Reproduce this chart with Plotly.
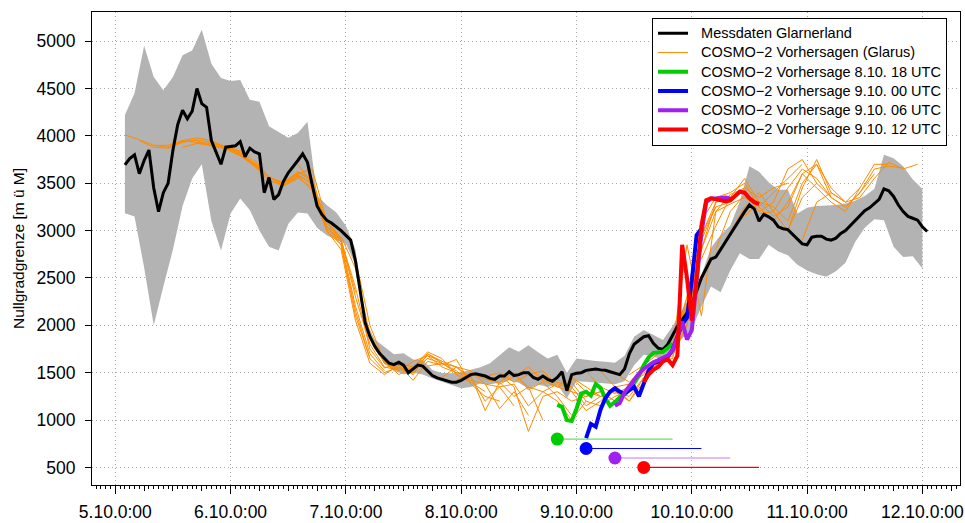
import pandas as pd
import plotly.graph_objects as go

# ---------------- data (hours since 5.10. 0:00 local time) ----------------
BASE = pd.Timestamp("2013-10-05 00:00")

day_ticks = [0, 24, 48, 72, 96, 120, 144, 168]
day_labels = ["5.10.0:00", "6.10.0:00", "7.10.0:00", "8.10.0:00",
              "9.10.0:00", "10.10.0:00", "11.10.0:00", "12.10.0:00"]
y_ticks = [500, 1000, 1500, 2000, 2500, 3000, 3500, 4000, 4500, 5000]

# Messdaten Glarnerland, hourly from hour 2
obs_start = 2
obs = [3693, 3760, 3800, 3600, 3740, 3850, 3450, 3200, 3400, 3500,
       3850, 4120, 4270, 4180, 4260, 4500, 4340, 4300, 3950, 3830,
       3700, 3880, 3890, 3895, 3940, 3780, 3870, 3830, 3810, 3400,
       3560, 3330, 3380, 3520, 3610, 3670, 3740, 3810, 3720, 3480,
       3260, 3170, 3110, 3080, 3040, 3000, 2950, 2900, 2680, 2330,
       2030, 1880, 1780, 1705, 1650, 1600, 1585, 1610, 1580, 1500,
       1540, 1580, 1570, 1520, 1470, 1445, 1430, 1420, 1400, 1400,
       1420, 1450, 1480, 1490, 1480, 1465, 1440, 1430, 1465, 1465,
       1510, 1470, 1480, 1500, 1500, 1450, 1430, 1465, 1430, 1410,
       1450, 1510, 1310, 1480, 1495, 1500, 1525, 1535, 1540, 1530,
       1525, 1510, 1495, 1480, 1540, 1700, 1800, 1845, 1880, 1890,
       1810, 1760, 1745, 1800, 1890, 1990, 2060, 2130, 2220, 2360,
       2500, 2600, 2700, 2720, 2800, 2880, 2970, 3040, 3120, 3200,
       3270, 3230, 3100, 3170, 3145, 3110, 3040, 3020, 3010, 2960,
       2910, 2860, 2850, 2930, 2940, 2940, 2910, 2900, 2920, 2970,
       3000, 3050, 3110, 3160, 3210, 3240, 3280, 3330, 3440, 3420,
       3360, 3270, 3200, 3150, 3130, 3110, 3040, 2990]

# grey range band, every 2 hours from hour 2
band_start = 2
band_upper = [4220, 4450, 4950, 4620, 4480, 4620, 4850, 4900, 5120, 4760,
              4610, 4580, 4590, 4380, 4360, 4100, 4040, 3980, 4030, 4150,
              3370, 3270, 3190, 3050, 2800, 2060, 1850, 1770, 1695, 1705,
              1640, 1634, 1530, 1497, 1494, 1505, 1530, 1557, 1600, 1680,
              1770, 1720, 1790, 1715, 1650, 1690, 1500, 1650, 1634, 1625,
              1617, 1605, 1680, 1880, 1950, 1900, 1846, 1990, 2160, 2340,
              2530, 2820, 2954, 3050, 3306, 3680, 3620, 3510, 3430, 3430,
              3180, 3240, 3260, 3265, 3271, 3285, 3315, 3365, 3440, 3800,
              3764, 3680, 3540, 3440]
band_lower = [3183, 3148, 2610, 2000, 2409, 2800, 3260, 3550, 3700, 3100,
              2790, 3180, 3340, 3218, 3000, 2830, 2790, 3070, 3190, 3180,
              3030, 2950, 2900, 2860, 2640, 2040, 1750, 1600, 1520, 1485,
              1500, 1480, 1440, 1405, 1370, 1335, 1350, 1385, 1378, 1395,
              1420, 1395, 1330, 1375, 1350, 1375, 1230, 1410, 1406, 1395,
              1388, 1378, 1410, 1580, 1690, 1670, 1640, 1760, 1860, 1960,
              2200, 2410, 2350, 2580, 2761, 2700, 2700, 2850, 2780, 2740,
              2640, 2580, 2540, 2514, 2570, 2660, 2880, 3030, 3120, 3110,
              2830, 2720, 2730, 2600]

# COSMO-2 forecasts (Glarus): start hour, values every 3 h over 24 h
orange_starts = [2, 5, 8, 11, 14, 17, 20, 23, 26, 29, 32, 35, 38, 41, 44, 47,
                 50, 53, 56, 59, 62, 65, 68, 71, 74, 77, 80, 83, 86, 89, 92, 95,
                 98, 101, 104, 107, 110, 113, 116, 119, 122, 125, 128, 131, 134,
                 137, 140, 143]
orange_runs = [
    [4010, 3960, 3900, 3900, 3950, 3930, 3920, 3890, 3840],
    [3950, 3880, 3870, 3940, 3950, 3890, 3870, 3790, 3690],
    [3900, 3880, 3950, 3980, 3950, 3880, 3830, 3700, 3560],
    [3870, 3930, 3960, 3930, 3880, 3800, 3700, 3570, 3480],
    [3880, 3920, 3900, 3860, 3790, 3680, 3530, 3470, 3550],
    [3930, 3900, 3870, 3820, 3700, 3560, 3500, 3620, 3520],
    [3900, 3880, 3810, 3680, 3530, 3480, 3580, 3420, 3060],
    [3880, 3820, 3700, 3560, 3510, 3600, 3480, 3100, 2920],
    [3850, 3720, 3560, 3480, 3560, 3450, 3020, 2900, 2350],
    [3750, 3560, 3500, 3580, 3500, 3000, 2850, 2150, 1650],
    [3560, 3500, 3620, 3550, 3050, 2880, 2200, 1700, 1520],
    [3500, 3600, 3650, 3100, 2900, 2300, 1800, 1560, 1530],
    [3700, 3500, 3050, 2850, 2100, 1650, 1500, 1560, 1480],
    [3400, 3000, 2800, 2050, 1600, 1480, 1580, 1520, 1650],
    [3080, 2900, 2400, 1750, 1550, 1600, 1560, 1700, 1620],
    [2940, 2600, 1900, 1600, 1520, 1620, 1680, 1560, 1500],
    [2700, 2000, 1620, 1480, 1560, 1720, 1650, 1480, 1400],
    [1900, 1600, 1540, 1500, 1650, 1600, 1520, 1400, 1300],
    [1620, 1580, 1420, 1620, 1580, 1640, 1380, 1250, 1200],
    [1600, 1480, 1700, 1600, 1560, 1450, 1200, 1350, 1150],
    [1540, 1680, 1620, 1560, 1420, 1380, 1120, 1300, 1050],
    [1570, 1600, 1500, 1470, 1100, 1400, 1250, 1350, 1000],
    [1450, 1560, 1520, 1380, 1350, 1380, 1150, 1300, 1380],
    [1420, 1500, 1430, 1400, 1500, 1320, 1400, 1250, 1050],
    [1480, 1460, 1380, 1460, 1560, 1420, 1350, 1400, 1200],
    [1460, 1500, 1400, 1480, 1520, 1360, 1440, 1300, 1250],
    [1470, 1350, 880, 1250, 1300, 1200, 1250, 1300, 1200],
    [1480, 1350, 1300, 1200, 1000, 1200, 1150, 1250, 1300],
    [1480, 1420, 1350, 1300, 1250, 1300, 1200, 1350, 1550],
    [1460, 1400, 1350, 1150, 1250, 1300, 1250, 1450, 1650],
    [1440, 1300, 1100, 1200, 1350, 1200, 1400, 1600, 1700],
    [1450, 1350, 1250, 1300, 1200, 1450, 1600, 1680, 2000],
    [1520, 1350, 1280, 1350, 1500, 1620, 1650, 2300, 2950],
    [1520, 1350, 1380, 1480, 1600, 1700, 2000, 2950, 3250],
    [1500, 1400, 1550, 1650, 1720, 2200, 2800, 3300, 3350],
    [1480, 1580, 1700, 1780, 2850, 2100, 3200, 3380, 3450],
    [1550, 1650, 1720, 2000, 2950, 3300, 3350, 3550, 3300],
    [1750, 1800, 2300, 3100, 3350, 3400, 3500, 3250, 3100],
    [1900, 2200, 2900, 3250, 3300, 3450, 3350, 3450, 3500],
    [2200, 2800, 3200, 3280, 3350, 3250, 3400, 3550, 3700],
    [2700, 3050, 3350, 3420, 3200, 3300, 3650, 3750, 3500],
    [2800, 3200, 3380, 3300, 3150, 3250, 3600, 3700, 3350],
    [2980, 3250, 3400, 3200, 3000, 3450, 3750, 3400, 3300],
    [3150, 3300, 3250, 3100, 3500, 3700, 3450, 3300, 3450],
    [3180, 3200, 3450, 3650, 3550, 3350, 3250, 3400, 3600],
    [3100, 3300, 3600, 3450, 3300, 3200, 3450, 3700, 3700],
    [3000, 3350, 3500, 3350, 3250, 3400, 3650, 3680, 3660],
    [2900, 3300, 3400, 3300, 3350, 3550, 3720, 3650, 3700],
]
orange_step = 3

# highlighted forecasts (hourly values)
hl_names = ["COSMO\u22122 Vorhersage 8.10. 18 UTC", "COSMO\u22122 Vorhersage 9.10. 00 UTC",
            "COSMO\u22122 Vorhersage 9.10. 06 UTC", "COSMO\u22122 Vorhersage 9.10. 12 UTC"]
hl_colors = ["#00CD00", "#0000FF", "#A020F0", "#FF0000"]
hl_line_colors = ["rgba(0,205,0,0.6)", "rgb(0,0,255)", "rgba(160,32,240,0.6)", "rgb(255,0,0)"]
hl_starts = [92, 98, 104, 110]
hl_marker_level = [800, 700, 600, 500]
hl_length = 24
hl_values = [
    [1160, 1140, 1000, 990, 1120, 1280, 1300, 1260, 1380, 1340, 1230, 1150, 1190,
     1240, 1270, 1320, 1390, 1470, 1580, 1660, 1710, 1715, 1720, 1760, 1810],
    [810, 960, 930, 1110, 1230, 1300, 1336, 1300, 1280, 1320, 1350, 1250, 1400,
     1520, 1600, 1617, 1634, 1670, 1740, 1880, 2010, 2080, 2470, 2950, 3020],
    [1150, 1180, 1290, 1360, 1420, 1490, 1540, 1580, 1610, 1630, 1650, 1680, 1740,
     1870, 2040, 1850, 1950, 2440, 2970, 3300, 3340, 3340, 3350, 3350, 3340],
    [1400, 1480, 1530, 1560, 1620, 1640, 1580, 1680, 2850, 2500, 2050, 2500, 3050,
     3320, 3340, 3330, 3320, 3310, 3320, 3370, 3410, 3400, 3340, 3300, 3280],
]

LEG_FS = 14.5


def leg(txt):
    return '<span style="font-size:%spx">\u00a0\u00a0%s</span>' % (LEG_FS, txt)


def T(hours):
    return [BASE + pd.Timedelta(hours=h) for h in hours]


fig = go.Figure()

# grey band
band_hours = [band_start + 2 * i for i in range(len(band_upper))]
fig.add_trace(go.Scatter(x=T(band_hours), y=band_upper, mode="lines",
                         line=dict(width=0, color="#B3B3B3"), showlegend=False,
                         hoverinfo="skip"))
fig.add_trace(go.Scatter(x=T(band_hours), y=band_lower, mode="lines",
                         line=dict(width=0, color="#B3B3B3"), fill="tonexty",
                         fillcolor="#B3B3B3", showlegend=False, hoverinfo="skip"))

# orange forecasts
for i, (s, vals) in enumerate(zip(orange_starts, orange_runs)):
    hrs = [s + orange_step * k for k in range(len(vals))]
    fig.add_trace(go.Scatter(x=T(hrs), y=vals, mode="lines",
                             line=dict(color="#FF8C00", width=1),
                             name=leg("COSMO\u22122 Vorhersagen (Glarus)"),
                             legendgroup="orange", showlegend=(i == 0),
                             legendrank=2))

# observations
obs_hours = [obs_start + i for i in range(len(obs))]
fig.add_trace(go.Scatter(x=T(obs_hours), y=obs, mode="lines",
                         line=dict(color="black", width=3),
                         name=leg("Messdaten Glarnerland"), legendrank=1))

# highlighted forecasts
for j in range(4):
    hrs = [hl_starts[j] + k for k in range(len(hl_values[j]))]
    fig.add_trace(go.Scatter(x=T(hrs), y=hl_values[j], mode="lines",
                             line=dict(color=hl_colors[j], width=4),
                             name=leg(hl_names[j]), legendrank=3 + j))

# start markers and forecast spans
for j in range(4):
    s = hl_starts[j]
    fig.add_trace(go.Scatter(x=T([s, s + hl_length]),
                             y=[hl_marker_level[j], hl_marker_level[j]],
                             mode="lines", line=dict(color=hl_line_colors[j], width=1.2),
                             showlegend=False, hoverinfo="skip"))
    fig.add_trace(go.Scatter(x=T([s]), y=[hl_marker_level[j]], mode="markers",
                             marker=dict(color=hl_colors[j], size=13,
                                         line=dict(width=0)),
                             showlegend=False))

# dummy trace for the 6-hourly tick axis
fig.add_trace(go.Scatter(x=T([0]), y=[None], xaxis="x2", yaxis="y",
                         showlegend=False, hoverinfo="skip"))

x_range = T([-4.85, 175.83])
grid = dict(showgrid=True, gridcolor="#A8A8A8", griddash="1px,3px", gridwidth=1)

fig.update_layout(
    width=965, height=523,
    margin=dict(l=92, r=5, t=12, b=38),
    plot_bgcolor="white", paper_bgcolor="white",
    font=dict(family="Liberation Sans, Arial, sans-serif", color="black"),
    xaxis=dict(type="date", range=x_range, tickvals=T(day_ticks), ticktext=day_labels,
               ticks="outside", ticklen=8, tickcolor="black", tickwidth=1,
               tickfont=dict(size=17.5), showline=True, mirror=True,
               linecolor="black", linewidth=1, zeroline=False, automargin=False,
               ticklabelstandoff=3,
               minor=dict(dtick=3600000, ticks="outside", ticklen=3,
                          tickcolor="black", showgrid=False),
               **grid),
    xaxis2=dict(type="date", range=x_range, overlaying="x", anchor="y", side="bottom",
                tickvals=T(list(range(0, 176, 6))), ticks="outside", ticklen=5,
                tickcolor="black", showticklabels=False, showgrid=False,
                showline=False, zeroline=False, automargin=False),
    yaxis=dict(range=[315, 5307], tickvals=y_ticks, ticks="outside", ticklen=6,
               tickcolor="black", tickfont=dict(size=17.5), showline=True, mirror=True,
               linecolor="black", linewidth=1, zeroline=False, automargin=False,
               ticklabelstandoff=6,
               title=dict(text="Nullgradgrenze [m \u00fc M]", font=dict(size=15.5),
                          standoff=8),
               **grid),
    legend=dict(x=0.6452, y=0.988, xanchor="left", yanchor="top",
                bgcolor="white", bordercolor="black", borderwidth=1,
                font=dict(size=12.5), tracegroupgap=0, itemwidth=30),
    showlegend=True,
)

fig.write_html("out.html")
